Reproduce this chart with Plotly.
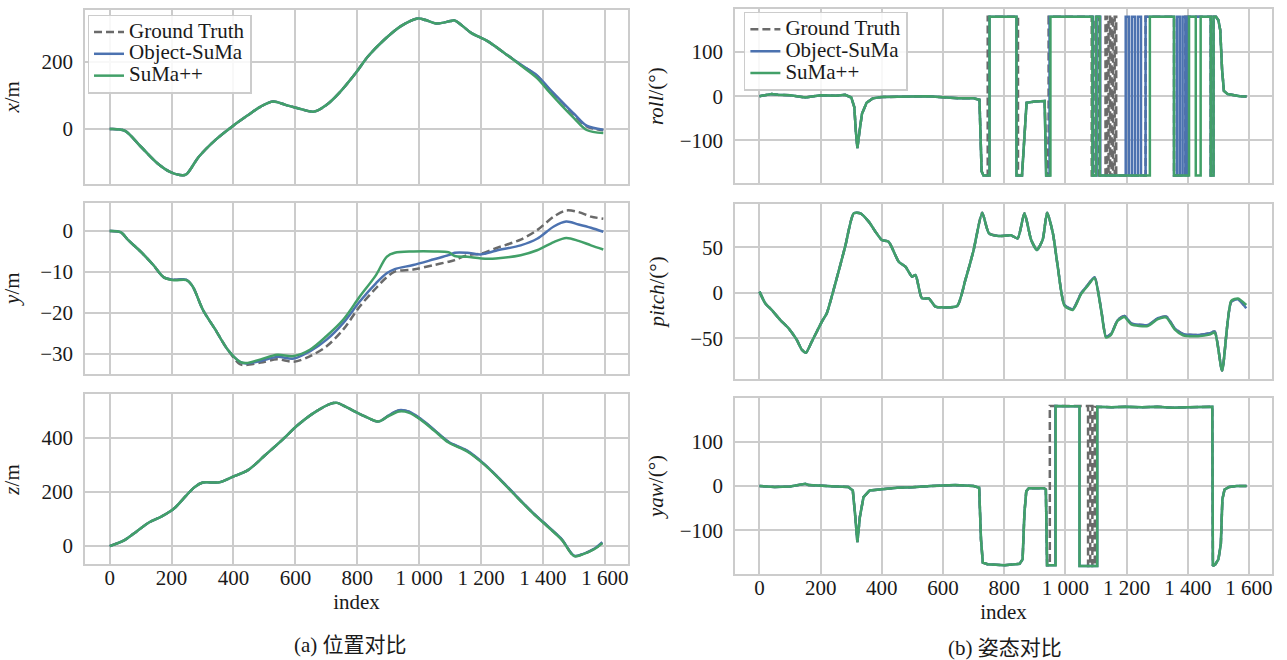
import plotly.graph_objects as go

# ---------------- data ----------------
SERIES = ["Ground Truth", "Object-SuMa", "SuMa++"]

IDX_TICKS = [0, 200, 400, 600, 800, 1000, 1200, 1400, 1600]
IDX_LABELS = ["0", "200", "400", "600", "800", "1 000", "1 200", "1 400", "1 600"]

# x / m
X_IDX = [0, 48, 101, 155, 195, 235, 248, 288, 341, 395, 448, 488, 528, 568, 608, 661, 701, 741, 795,
         835, 888, 941, 995, 1021, 1055, 1101, 1115, 1168, 1221, 1275, 1328, 1381, 1421, 1461, 1501, 1541, 1595]
X_GT = [0, -5, -53, -103, -128, -138, -135, -83, -33, 7, 42, 67, 82, 72, 62, 52, 72, 107, 167,
        217, 267, 307, 330, 325, 315, 322, 324, 287, 262, 227, 192, 158, 118, 80, 42, 8, -4]
X_OBJ = [0, -5, -53, -103, -128, -138, -135, -83, -33, 7, 42, 67, 82, 72, 62, 52, 72, 107, 167,
         217, 267, 307, 330, 325, 315, 322, 324, 287, 262, 227, 192, 160, 120, 82, 45, 10, -2]
X_SUMA = [0, -5, -53, -103, -128, -138, -135, -83, -33, 7, 42, 67, 82, 72, 62, 52, 72, 107, 167,
          217, 267, 307, 330, 325, 315, 322, 324, 287, 262, 227, 190, 152, 110, 70, 32, -3, -12]

# y / m
Y_IDX = [0, 35, 61, 101, 141, 175, 208, 248, 268, 301, 341, 381, 421, 441, 488, 541, 595, 648, 701,
         755, 808, 861, 895, 921, 981, 1048, 1095, 1115, 1155, 1201, 1248, 1328, 1381, 1435, 1475, 1515, 1555, 1595]
Y_GT = [0, -0.3, -2.3, -5.1, -8.3, -11.3, -11.9, -11.9, -13.5, -19.2, -24, -28.9, -32.5, -32.7, -32.1, -31.3,
        -31.9, -30.5, -28.1, -24, -18.4, -13.9, -11.3, -9.9, -9.4, -8.3, -7.5, -7.1, -5.9, -5.5, -4.2, -2.1,
        0.2, 3.5, 5, 4.6, 3.5, 3]
Y_OBJ = [0, -0.3, -2.3, -5.1, -8.3, -11.3, -11.9, -11.9, -13.5, -19.2, -24, -28.9, -31.9, -32.3, -31.7, -30.7,
         -31.1, -29.3, -26.5, -22.4, -17.2, -12.7, -10.3, -9.3, -8.3, -6.9, -5.9, -5.3, -5.3, -5.7, -4.8, -3.5,
         -1.9, 1.1, 2.3, 1.6, 0.8, -0.2]
Y_SUMA = [0, -0.3, -2.3, -5.1, -8.3, -11.3, -12.0, -12.0, -13.5, -19.2, -24, -28.9, -31.9, -32.2, -31.3, -30.2,
          -30.5, -28.9, -25.6, -21.6, -16, -10.7, -6.3, -5.3, -5.0, -5.0, -5.2, -6.1, -6.3, -6.7, -6.7, -5.9,
          -4.7, -2.7, -1.7, -2.4, -3.5, -4.5]

# z / m
Z_IDX = [0, 48, 88, 128, 168, 208, 248, 275, 301, 355, 395, 448, 501, 555, 608, 661, 715, 735, 768, 821,
         868, 901, 935, 968, 1008, 1048, 1095, 1155, 1208, 1261, 1315, 1368, 1421, 1461, 1501, 1528, 1568, 1592]
Z_GT = [0, 22, 55, 88, 110, 139, 188, 219, 235, 236, 255, 282, 335, 390, 448, 494, 527, 530, 512, 482,
        461, 483, 502, 496, 467, 430, 385, 352, 305, 247, 183, 122, 67, 24, -37, -30, -9, 12]
Z_OBJ = [0, 22, 55, 88, 110, 139, 188, 219, 235, 236, 255, 282, 335, 390, 448, 494, 527, 530, 512, 482,
         461, 483, 503, 497, 468, 431, 386, 353, 306, 248, 184, 123, 68, 25, -36, -30, -8, 14]
Z_SUMA = [0, 22, 55, 88, 110, 139, 188, 219, 235, 236, 255, 282, 335, 390, 448, 494, 527, 530, 512, 482,
          461, 481, 498, 493, 465, 428, 383, 350, 304, 246, 182, 121, 66, 23, -37, -31, -10, 11]

# roll / deg  (index, value) pairs; common first part, then per-series part
ROLL_START = [(0, 0), (20, 2), (40, 5), (60, 3), (100, 2), (150, -3), (200, 2), (250, 1), (280, 3), (300, -3),
              (310, -25), (315, -80), (320, -118), (326, -85), (335, -40), (350, -15), (370, -5), (400, -2),
              (450, -2), (500, -1), (550, 0), (600, -3), (650, -5), (700, -5), (719, -8), (726, -170), (732, -180)]
ROLL_END = [(1492, 180), (1500, 172), (1506, 150), (1512, 60), (1518, 12), (1530, 5), (1550, 2), (1570, 0),
            (1592, -1)]
ROLL_GT = [(746, -180), (746, 180), (845, 180), (845, -180), (858, -180), (866, -100), (873, -15), (900, -12),
           (932, -11), (940, -180), (945, -180), (945, 180), (1086, 180), (1086, -180), (1098, -180), (1098, 180),
           (1110, 180), (1110, -180), (1131, -180), (1131, 180), (1136, 180), (1136, -180), (1141, -180),
           (1141, 180), (1146, 180), (1146, -180), (1151, -180), (1151, 180), (1156, 180), (1156, -180),
           (1161, -180), (1161, 180), (1166, 180), (1166, -180), (1262, -180), (1262, 180), (1355, 180),
           (1355, -180), (1392, -180), (1392, 180), (1475, 180), (1475, -180), (1484, -180), (1484, 180)]
ROLL_OBJ = [(752, -180), (752, 180), (840, 180), (840, -180), (858, -180), (866, -100), (873, -15), (900, -12),
            (932, -11), (937, -180), (948, -180), (948, 180), (1090, 180), (1090, -180), (1102, -180), (1102, 180),
            (1114, 180), (1114, -180), (1197, -180), (1197, 180), (1207, 180), (1207, -180), (1217, -180),
            (1217, 180), (1227, 180), (1227, -180), (1237, -180), (1237, 180), (1247, 180), (1247, -180),
            (1262, -180), (1262, 180), (1355, 180), (1355, -180), (1365, -180), (1365, 180), (1374, 180),
            (1374, -180), (1383, -180), (1383, 180), (1392, 180), (1392, -180), (1400, -180), (1400, 180),
            (1475, 180), (1475, -180), (1484, -180), (1484, 180)]
ROLL_SUMA = [(752, -180), (752, 180), (840, 180), (840, -180), (858, -180), (866, -100), (873, -15), (900, -12),
             (932, -11), (937, -180), (951, -180), (951, 180), (1088, 180), (1088, -180), (1100, -180),
             (1100, 180), (1112, 180), (1112, -180), (1276, -180), (1276, 180), (1355, 180), (1355, -180),
             (1404, -180), (1404, 180), (1426, 180), (1426, -180), (1442, -180), (1442, 180), (1475, 180),
             (1475, -180), (1484, -180), (1484, 180)]

# pitch / deg
P_IDX = [0, 19, 40, 68, 95, 122, 139, 152, 171, 204, 220, 248, 280, 308, 330, 357, 379, 400, 422, 455, 477,
         499, 510, 531, 553, 575, 597, 646, 673, 700, 728, 750, 782, 822, 844, 866, 888, 907, 926, 940, 959,
         975, 997, 1024, 1051, 1073, 1095, 1117, 1133, 1149, 1171, 1193, 1215, 1269, 1302, 1330, 1357, 1384,
         1433, 1471, 1488, 1512, 1542, 1564, 1591]
P_GT = [1.5, -11.4, -18.7, -29.7, -38.8, -51.6, -62.6, -65.6, -53.5, -31.5, -22.3, 10.6, 50.9, 87.5, 87.5,
        78.4, 67.4, 58.2, 56.4, 34.4, 28.9, 17.9, 19.8, -5.9, -5.9, -15, -15.8, -14.3, 14.3, 47.3, 88.3, 65.6,
        62.6, 63.4, 60, 87.5, 58.2, 47.3, 59, 88.3, 65.6, 28.9, -13.2, -17.9, -0.4, 8.8, 17.2, -18.7, -48, -45,
        -29.7, -25.3, -33.3, -35.2, -27.8, -26, -38.8, -45, -46.2, -44.3, -42.5, -85.3, -9.5, -7, -16.8]
P_OBJ = [1.5, -11.4, -18.7, -29.7, -38.8, -51.6, -62.6, -65.6, -53.5, -31.5, -22.3, 10.6, 50.9, 87.5, 87.5,
         78.4, 67.4, 58.2, 56.4, 34.4, 28.9, 17.9, 19.8, -5.9, -5.9, -15, -15.8, -14.3, 14.3, 47.3, 88.3, 65.6,
         62.6, 63.4, 60, 87.5, 58.2, 47.3, 59, 88.3, 65.6, 28.9, -13.2, -17.9, -0.4, 8.8, 17.2, -18.7, -48, -45,
         -29.7, -25.3, -33.3, -35.2, -27.8, -26, -38.8, -45, -46.2, -44.3, -42.5, -85.3, -9.5, -7, -16.8]
P_SUMA = [1.5, -11.4, -18.7, -29.7, -38.8, -51.6, -62.6, -65.6, -53.5, -31.5, -22.3, 10.6, 50.9, 87.5, 87.5,
          78.4, 67.4, 58.2, 56.4, 34.4, 28.9, 17.9, 19.8, -5.9, -5.9, -15, -15.8, -14.3, 14.3, 47.3, 88.3, 65.6,
          62.6, 63.4, 60, 87.5, 58.2, 47.3, 59, 88.3, 65.6, 28.9, -14.0, -18.7, -1.2, 8.0, 16.4, -19.5, -49,
          -46, -30.5, -26.5, -34.5, -36.3, -28.8, -27, -40, -46.5, -47.5, -45.8, -43.5, -85.3, -8.5, -6, -13.2]

# yaw / deg
YAW_START = [(0, 0), (50, -2), (100, -1), (150, 5), (160, 2), (200, 0), (250, -1), (290, -2), (305, -10),
             (312, -60), (320, -126), (328, -70), (340, -25), (360, -10), (400, -7), (450, -4), (500, -3),
             (560, 0), (640, 2), (700, 0), (718, -4), (724, -120), (730, -172), (745, -176), (800, -178),
             (850, -175), (860, -165), (866, -60), (872, -12), (880, -5), (930, -5), (936, -8), (940, -178)]
YAW_END = [(1150, 177), (1200, 178), (1250, 177), (1300, 178), (1350, 176), (1400, 177), (1450, 177),
           (1480, 178), (1482, -180), (1490, -176), (1500, -165), (1508, -130), (1513, -30), (1520, -8),
           (1535, -2), (1560, 0), (1592, 0)]
YAW_GT = [(949, -178), (949, 180), (1074, 180), (1074, -180), (1081, -180), (1081, 180), (1088, 180),
          (1088, -180), (1096, -180), (1096, 178)]
YAW_OBJ = [(967, -178), (967, 180), (1046, 179), (1046, -180), (1104, -180), (1104, 178)]
YAW_SUMA = [(968, -178), (968, 180), (1046, 179), (1046, -180), (1104, -180), (1104, 178)]

# ---------------- styling ----------------
FONT = "Liberation Serif, Times New Roman, serif"
CJK_FONT = "Liberation Serif, Noto Sans CJK SC, serif"
FS = 21
TXT = "#1a1a1a"
GRID = "#cccccc"
STYLE = {
    "Ground Truth": dict(color="#6a6a6a", width=2.5, dash="8px,4px"),
    "Object-SuMa": dict(color="#4c72b0", width=2.5),
    "SuMa++": dict(color="#42a068", width=2.5),
}
SMOOTH = {1: True, 2: True, 3: True, 4: False, 5: True, 6: False}


def split(pairs):
    return [p[0] for p in pairs], [p[1] for p in pairs]


panels = {
    1: [(X_IDX, X_GT), (X_IDX, X_OBJ), (X_IDX, X_SUMA)],
    2: [(Y_IDX, Y_GT), (Y_IDX, Y_OBJ), (Y_IDX, Y_SUMA)],
    3: [(Z_IDX, Z_GT), (Z_IDX, Z_OBJ), (Z_IDX, Z_SUMA)],
    4: [split(ROLL_START + ROLL_GT + ROLL_END), split(ROLL_START + ROLL_OBJ + ROLL_END),
        split(ROLL_START + ROLL_SUMA + ROLL_END)],
    5: [(P_IDX, P_GT), (P_IDX, P_OBJ), (P_IDX, P_SUMA)],
    6: [split(YAW_START + YAW_GT + YAW_END), split(YAW_START + YAW_OBJ + YAW_END),
        split(YAW_START + YAW_SUMA + YAW_END)],
}

fig = go.Figure()
for k, series in panels.items():
    for name, (xs, ys) in zip(SERIES, series):
        legend_name = "legend" if k == 1 else ("legend2" if k == 4 else None)
        line = dict(STYLE[name])
        if SMOOTH[k]:
            line.update(shape="spline", smoothing=0.6 if k == 5 else 0.9)
        tr = dict(x=xs, y=ys, mode="lines",
                  name=f'<span style="font-size:{FS}px">{name}</span>', line=line,
                  xaxis="x" if k == 1 else f"x{k}", yaxis="y" if k == 1 else f"y{k}",
                  showlegend=legend_name is not None, hoverinfo="skip")
        if legend_name:
            tr["legend"] = legend_name
        fig.add_trace(go.Scatter(**tr))

XDOM_L = [0.0660, 0.4880]
XDOM_R = [0.5711, 0.9883]
YDOMS = {1: [0.7218, 0.9848], 2: [0.4338, 0.6929], 3: [0.1448, 0.4023],
         4: [0.7227, 0.9859], 5: [0.4265, 0.6905], 6: [0.1302, 0.3971]}
YRANGES = {1: [-163, 355], 2: [-34.8, 6.9], 3: [-68, 561], 4: [-197, 197], 5: [-94, 97.5], 6: [-198, 198]}
YTICKS = {1: [0, 200], 2: [-30, -20, -10, 0], 3: [0, 200, 400], 4: [-100, 0, 100], 5: [-50, 0, 50],
          6: [-100, 0, 100]}
YTITLES = {1: "<i>x</i>/m", 2: "<i>y</i>/m", 3: "<i>z</i>/m", 4: "<i>roll</i>/(°)",
           5: "<i>pitch</i>/(°)", 6: "<i>yaw</i>/(°)"}
YSTANDOFF = {1: 18, 2: 17, 3: 18, 4: 10, 5: 20, 6: 10}

layout = dict(
    width=1287, height=660, autosize=False,
    margin=dict(l=0, r=0, t=0, b=0),
    paper_bgcolor="white", plot_bgcolor="white",
    font=dict(family=FONT, size=FS, color=TXT),
)

for k in range(1, 7):
    xa = "xaxis" if k == 1 else f"xaxis{k}"
    ya = "yaxis" if k == 1 else f"yaxis{k}"
    bottom = k in (3, 6)
    layout[xa] = dict(
        domain=XDOM_L if k <= 3 else XDOM_R, range=[-80, 1675],
        anchor="y" if k == 1 else f"y{k}",
        tickvals=IDX_TICKS, ticktext=IDX_LABELS, showticklabels=bottom,
        showgrid=True, gridcolor=GRID, gridwidth=1.5, zeroline=False,
        showline=True, mirror=True, linecolor=GRID, linewidth=1.5,
        ticks="", ticklabelstandoff=-6,
        tickfont=dict(family=FONT, size=FS, color=TXT),
    )
    if bottom:
        layout[xa]["title"] = dict(text="index", standoff=4, font=dict(family=FONT, size=FS, color=TXT))
    layout[ya] = dict(
        domain=YDOMS[k], range=YRANGES[k], anchor="x" if k == 1 else f"x{k}",
        tickvals=YTICKS[k], ticktext=[("−" + str(-v)) if v < 0 else str(v) for v in YTICKS[k]],
        showgrid=True, gridcolor=GRID, gridwidth=1.5, zeroline=False,
        showline=True, mirror=True, linecolor=GRID, linewidth=1.5,
        ticks="", ticklabelstandoff=6,
        tickfont=dict(family=FONT, size=FS, color=TXT),
        title=dict(text=YTITLES[k], standoff=YSTANDOFF[k], font=dict(family=FONT, size=FS, color=TXT)),
    )

leg_common = dict(bgcolor="rgba(255,255,255,0.85)", bordercolor=GRID, borderwidth=1.5,
                  font=dict(family=FONT, size=14.5, color=TXT), xanchor="left", yanchor="top",
                  tracegroupgap=0, itemwidth=30)
layout["legend"] = dict(x=0.068, y=0.978, **leg_common)
layout["legend2"] = dict(x=0.578, y=0.982, **leg_common)

layout["annotations"] = [
    dict(text="(a) 位置对比", x=0.272, y=0.023, xref="paper", yref="paper", showarrow=False,
         xanchor="center", yanchor="middle", font=dict(family=CJK_FONT, size=FS, color=TXT)),
    dict(text="(b) 姿态对比", x=0.781, y=0.018, xref="paper", yref="paper", showarrow=False,
         xanchor="center", yanchor="middle", font=dict(family=CJK_FONT, size=FS, color=TXT)),
]

fig.update_layout(**layout)
fig.write_html("out.html", config={"displayModeBar": False},
               post_script="document.body.style.margin='0px';")
